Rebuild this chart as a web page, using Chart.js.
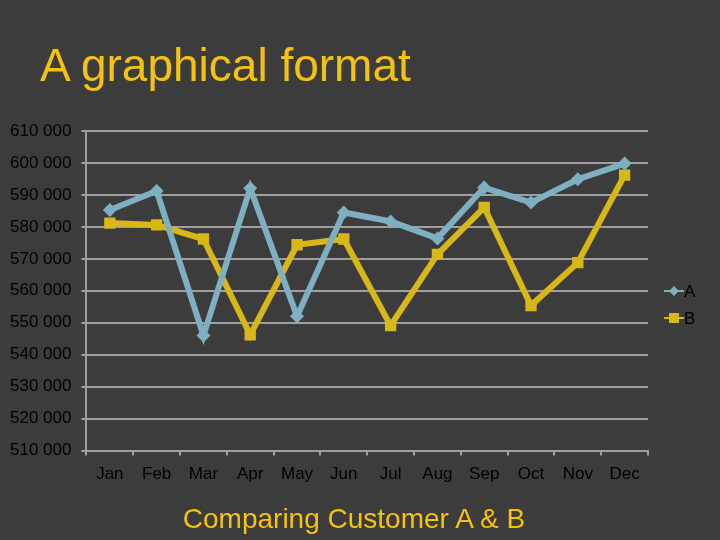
<!DOCTYPE html>
<html>
<head>
<meta charset="utf-8">
<script src="https://cdn.jsdelivr.net/npm/chart.js@4"></script>
<style>
  html, body { margin: 0; padding: 0; background: #3c3c3c; }
  #wrap { position: relative; width: 720px; height: 540px; }
  #titulo {
    position: absolute; left: 40px; top: 38px; margin: 0; font-weight: normal;
    font: 46px "Liberation Sans", Arial, sans-serif; color: #f5c211;
  }
  #subtitulo {
    position: absolute; left: 154px; width: 400px; top: 503px; text-align: center;
    font: 28px "Liberation Sans", Arial, sans-serif; color: #f5c211;
  }
  canvas { position: absolute; left: 0; top: 0; }
</style>
</head>
<body>
<div id="wrap">
  <canvas id="grafico" width="720" height="540"></canvas>
  <h1 id="titulo">A graphical format</h1>
  <div id="subtitulo">Comparing Customer A &amp; B</div>
</div>
<script>
// === DADOS ===
const meses   = ['Jan', 'Feb', 'Mar', 'Apr', 'May', 'Jun', 'Jul', 'Aug', 'Sep', 'Oct', 'Nov', 'Dec'];
const valoresA = [585300, 591200, 546000, 592100, 552000, 584500, 581700, 576400, 592300, 587600, 594900, 599800];
const valoresB = [581200, 580600, 576200, 546200, 574400, 576200, 549100, 571400, 586100, 555400, 568800, 596200];
const eixoMin = 510000;
const eixoMax = 610000;

const corA = '#7fb0c2';
const corB = '#d8b817';
const fonte = '"Liberation Sans", Arial, sans-serif';

// legenda desenhada à mão (linha + marcador), como no original
const legendaLinha = {
  id: 'legendaLinha',
  afterDraw(chart) {
    const c = chart.ctx;
    c.save();
    chart.data.datasets.forEach((ds, i) => {
      const y = 291 + i * 27;
      c.strokeStyle = ds.borderColor;
      c.lineWidth = 2;
      c.beginPath();
      c.moveTo(664, y);
      c.lineTo(684, y);
      c.stroke();
      c.fillStyle = ds.borderColor;
      if (ds.pointStyle === 'rectRot') {
        c.beginPath();
        c.moveTo(674, y - 5); c.lineTo(679, y); c.lineTo(674, y + 5); c.lineTo(669, y);
        c.closePath(); c.fill();
      } else {
        c.fillRect(669, y - 5, 10, 10);
      }
      c.fillStyle = '#000';
      c.font = '17px ' + fonte;
      c.textBaseline = 'middle';
      c.fillText(ds.label, 684, y + 1);
    });
    c.restore();
  }
};

new Chart(document.getElementById('grafico'), {
  type: 'line',
  data: {
    labels: meses,
    datasets: [
      {
        label: 'A',
        data: valoresA,
        borderColor: corA,
        backgroundColor: corA,
        borderWidth: 6,
        pointStyle: 'rectRot',
        pointRadius: 7,
        pointBorderWidth: 0,
        tension: 0
      },
      {
        label: 'B',
        data: valoresB,
        borderColor: corB,
        backgroundColor: corB,
        borderWidth: 6,
        pointStyle: 'rect',
        pointRadius: 8,
        pointBorderWidth: 0,
        tension: 0
      }
    ]
  },
  options: {
    responsive: false,
    animation: false,
    color: '#000',
    layout: { padding: { left: 0, right: 72, top: 131, bottom: 46 } },
    plugins: {
      legend: { display: false },
      tooltip: { enabled: false }
    },
    scales: {
      x: {
        offset: true,
        grid: { offset: true, drawOnChartArea: false, color: '#a0a0a0', lineWidth: 2, tickLength: 5 },
        border: { color: '#a0a0a0', width: 2 },
        ticks: { color: '#000', padding: 9, maxRotation: 0, autoSkip: false,
                 font: { size: 17, family: fonte } }
      },
      y: {
        min: eixoMin,
        max: eixoMax,
        grid: { color: '#a0a0a0', lineWidth: 2, tickLength: 5 },
        border: { color: '#a0a0a0', width: 2 },
        ticks: {
          stepSize: 10000,
          color: '#000',
          padding: 10,
          font: { size: 17, family: fonte },
          callback: v => String(v).replace(/\B(?=(\d{3})+(?!\d))/g, ' ')
        }
      }
    }
  },
  plugins: [legendaLinha]
});
</script>
</body>
</html>
